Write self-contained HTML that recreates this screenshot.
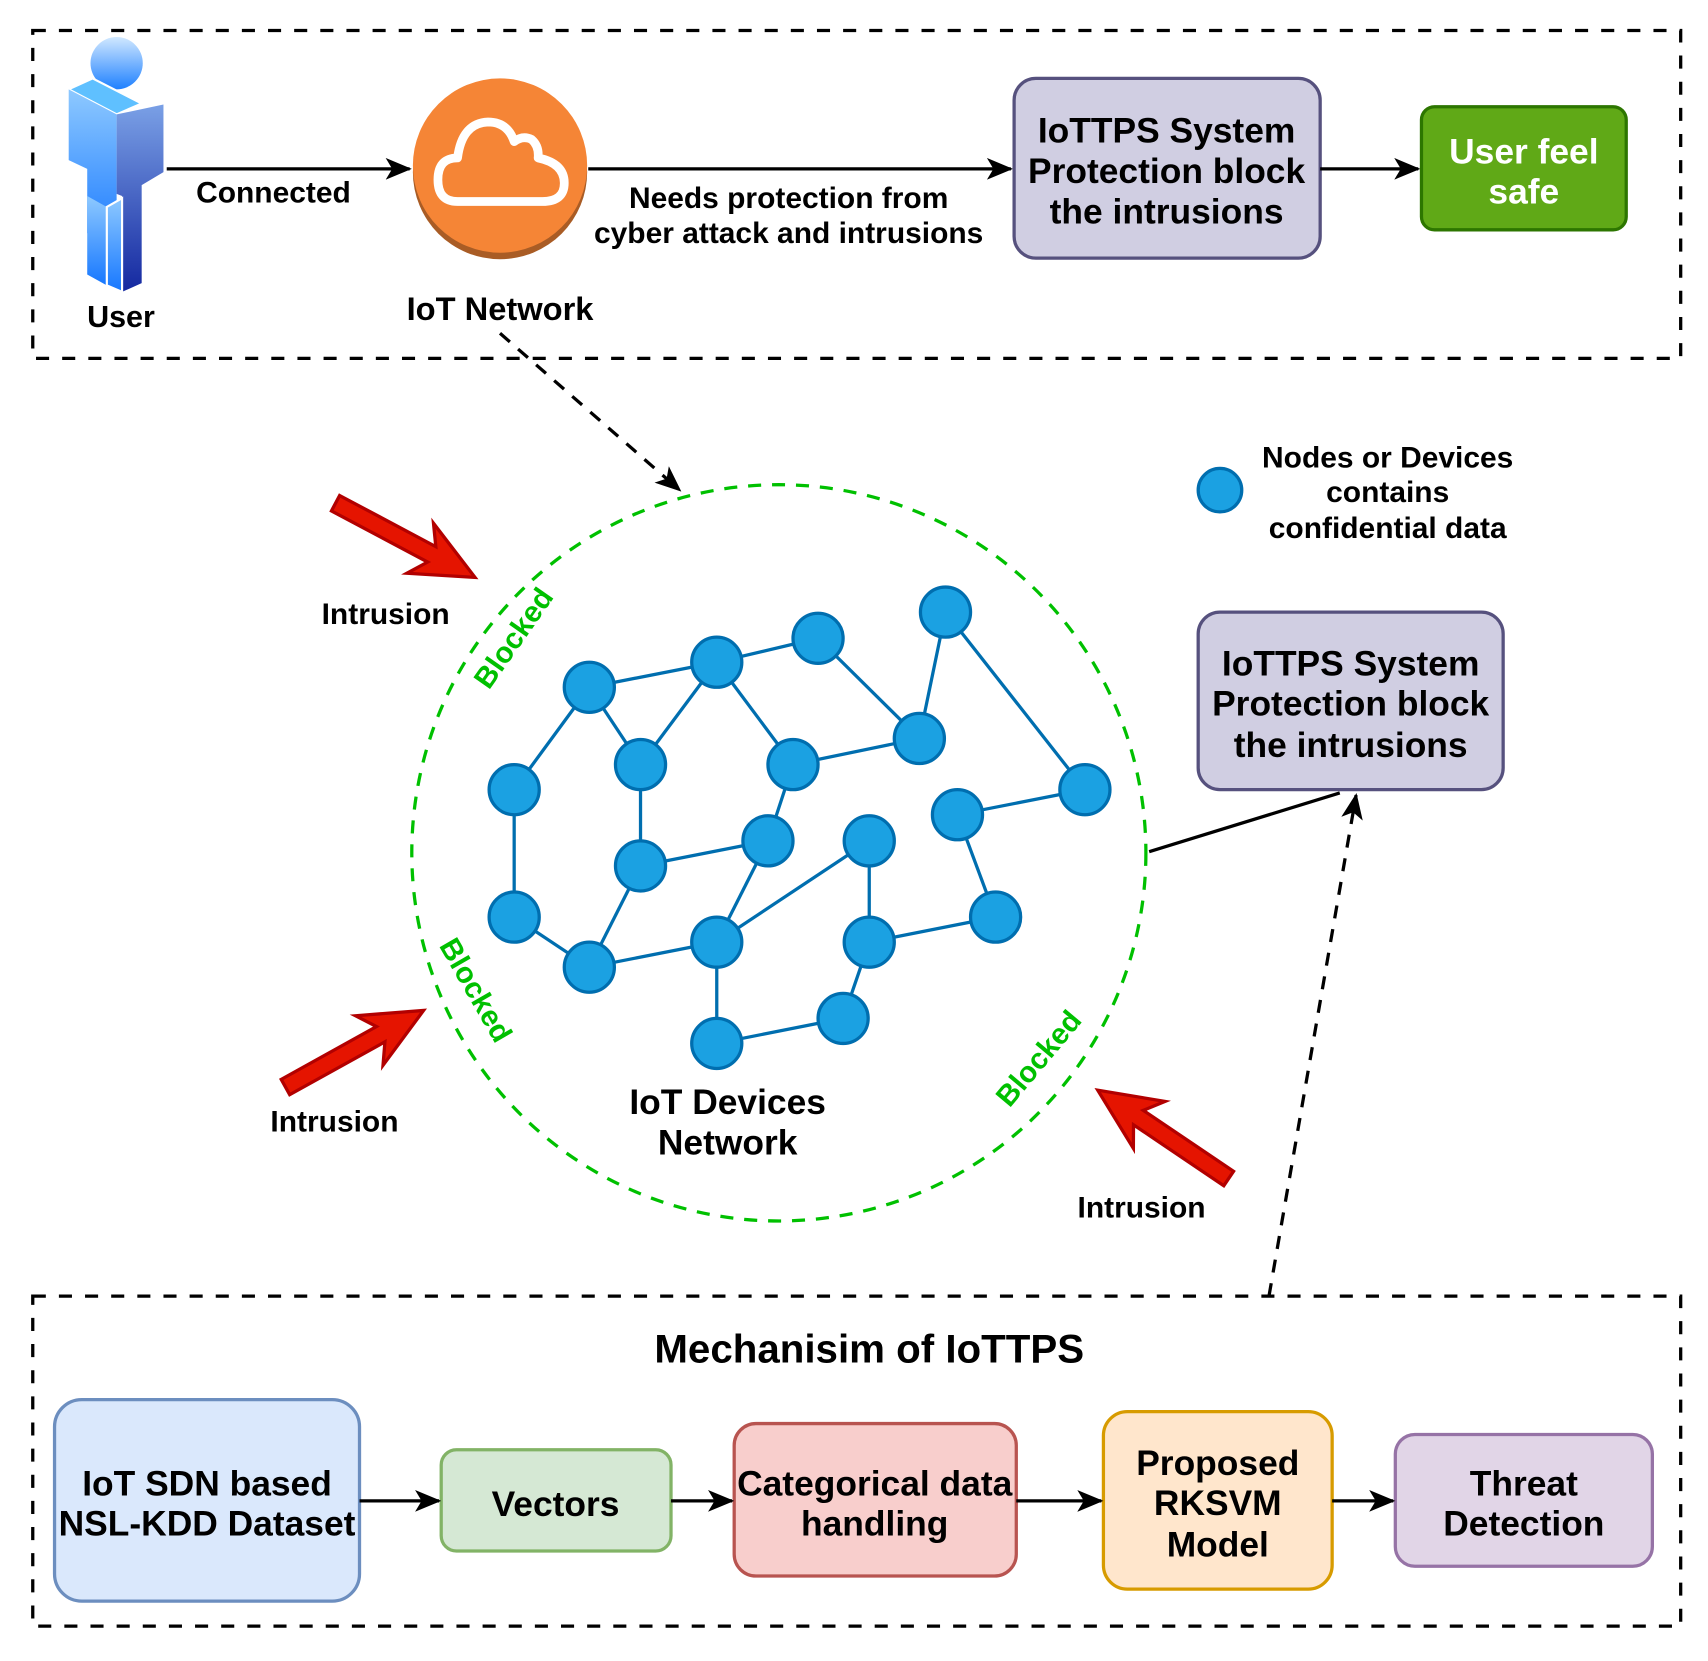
<!DOCTYPE html>
<html><head><meta charset="utf-8"><style>html,body{margin:0;padding:0;background:#fff}svg{display:block}text{font-family:"Liberation Sans",Arial,sans-serif;font-weight:bold}</style></head>
<body>
<svg width="1708" height="1661" viewBox="0 0 1568 1525" xmlns="http://www.w3.org/2000/svg">
<defs>
<marker id="ar2" viewBox="0 0 24 20" refX="22" refY="10" markerWidth="24" markerHeight="20" markerUnits="userSpaceOnUse" orient="auto">
<path d="M0,0 L24,10 L0,20 L6,10 Z" fill="#000"/>
</marker>
<linearGradient id="ug" x1="0" y1="0" x2="0" y2="1"><stop offset="0" stop-color="#8ec9ff"/><stop offset="1" stop-color="#1677ff"/></linearGradient>
<linearGradient id="ug2" x1="0" y1="0" x2="0" y2="1"><stop offset="0" stop-color="#7aa0e6"/><stop offset="1" stop-color="#1428a0"/></linearGradient>
<linearGradient id="uh" x1="0" y1="0" x2="0" y2="1"><stop offset="0" stop-color="#d0e8ff"/><stop offset="1" stop-color="#1f80ff"/></linearGradient>
<g id="red"><polygon points="0,-8 100,-8 88,-26 145,0 88,26 100,8 0,8" fill="#e51400" stroke="#b20000" stroke-width="3" stroke-linejoin="miter"/></g>
</defs>

<rect x="30" y="28" width="1513" height="301" fill="none" stroke="#000" stroke-width="3" stroke-dasharray="12,12"/>
<ellipse cx="107" cy="58" rx="24" ry="24" fill="url(#uh)"/>
<polygon points="63,82 107,105 130,95 85,72" fill="#5fc0ff" stroke="#fff" stroke-width="2"/>
<polygon points="63,82 107,105 107,230 80,214 80,155 63,147" fill="url(#ug)"/>
<polygon points="107,105 150,96 150,158 130,170 130,260 112,268 112,180 107,178" fill="url(#ug2)"/>
<polygon points="80,180 98,190 98,262 80,252" fill="url(#ug)"/>
<polygon points="98,190 112,182 112,268 98,262" fill="url(#ug)" stroke="#fff" stroke-width="2"/>
<text x="111" y="300" font-size="28" text-anchor="middle">User</text>
<line x1="153" y1="155" x2="376" y2="155" stroke="#000" stroke-width="3" marker-end="url(#ar2)"/>
<text x="251" y="186" font-size="27.5" text-anchor="middle">Connected</text>
<ellipse cx="459" cy="158" rx="80" ry="80" fill="#a95c25"/>
<ellipse cx="459" cy="152" rx="80" ry="80" fill="#f58536"/>
<path d="M420,185 Q402,185 402,165 Q402,145 420,145 Q424,113 448,112 Q466,112 472,130 Q480,124 488,128 Q495,134 494,145 Q518,150 518,168 Q518,185 498,185 Z" fill="none" stroke="#fff" stroke-width="8" stroke-linejoin="round"/>
<text x="459" y="294" font-size="30" text-anchor="middle">IoT Network</text>
<line x1="540" y1="155" x2="928" y2="155" stroke="#000" stroke-width="3" marker-end="url(#ar2)"/>
<text x="724" y="191" font-size="27.5" text-anchor="middle">Needs protection from</text>
<text x="724" y="223" font-size="27.5" text-anchor="middle">cyber attack and intrusions</text>
<rect x="931" y="72" width="281" height="165" rx="20" fill="#d0cee2" stroke="#56517e" stroke-width="3"/>
<text x="1071" y="131" font-size="32.5" text-anchor="middle">IoTTPS System</text>
<text x="1071" y="168" font-size="32.5" text-anchor="middle">Protection block</text>
<text x="1071" y="205" font-size="32.5" text-anchor="middle">the intrusions</text>
<line x1="1212" y1="155" x2="1302" y2="155" stroke="#000" stroke-width="3" marker-end="url(#ar2)"/>
<rect x="1305" y="98" width="188" height="113" rx="12" fill="#60a917" stroke="#2d7600" stroke-width="3"/>
<text x="1399" y="150" font-size="32.5" text-anchor="middle" fill="#fff">User feel</text>
<text x="1399" y="187" font-size="32.5" text-anchor="middle" fill="#fff">safe</text>

<line x1="459" y1="306" x2="624" y2="450" stroke="#000" stroke-width="3" stroke-dasharray="12,10" marker-end="url(#ar2)"/>
<ellipse cx="715" cy="783" rx="337" ry="338" fill="none" stroke="#00c000" stroke-width="3" stroke-dasharray="12,10"/>

<circle cx="1120" cy="450" r="20" fill="#1ba1e2" stroke="#006eaf" stroke-width="3"/>
<text x="1274" y="429" font-size="27.5" text-anchor="middle">Nodes or Devices</text>
<text x="1274" y="461" font-size="27.5" text-anchor="middle">contains</text>
<text x="1274" y="494" font-size="27.5" text-anchor="middle">confidential data</text>

<rect x="1100" y="562" width="280" height="163" rx="20" fill="#d0cee2" stroke="#56517e" stroke-width="3"/>
<text x="1240" y="620" font-size="32.5" text-anchor="middle">IoTTPS System</text>
<text x="1240" y="657" font-size="32.5" text-anchor="middle">Protection block</text>
<text x="1240" y="695" font-size="32.5" text-anchor="middle">the intrusions</text>
<line x1="1055" y1="782" x2="1230" y2="728" stroke="#000" stroke-width="3"/>
<polyline points="1165,1190 1245,730" fill="none" stroke="#000" stroke-width="3" stroke-dasharray="12,10" marker-end="url(#ar2)"/>

<use href="#red" transform="translate(308,462) rotate(28)"/>
<use href="#red" transform="translate(262,998) rotate(-29)"/>
<use href="#red" transform="translate(1128,1082) rotate(-146)"/>
<text x="354" y="573" font-size="27.5" text-anchor="middle">Intrusion</text>
<text x="307" y="1039" font-size="27.5" text-anchor="middle">Intrusion</text>
<text x="1048" y="1118" font-size="27.5" text-anchor="middle">Intrusion</text>

<text transform="translate(473,587) rotate(-55)" font-size="27" fill="#00c000" text-anchor="middle" dominant-baseline="middle">Blocked</text>
<text transform="translate(435,910) rotate(60)" font-size="27" fill="#00c000" text-anchor="middle" dominant-baseline="middle">Blocked</text>
<text transform="translate(955,973) rotate(-50)" font-size="27" fill="#00c000" text-anchor="middle" dominant-baseline="middle">Blocked</text>

<g stroke="#006eaf" stroke-width="3">
<line x1="541" y1="631" x2="658" y2="608"/>
<line x1="658" y1="608" x2="751" y2="586"/>
<line x1="541" y1="631" x2="472" y2="725"/>
<line x1="541" y1="631" x2="588" y2="702"/>
<line x1="658" y1="608" x2="588" y2="702"/>
<line x1="658" y1="608" x2="728" y2="702"/>
<line x1="751" y1="586" x2="844" y2="678"/>
<line x1="868" y1="562" x2="844" y2="678"/>
<line x1="868" y1="562" x2="996" y2="725"/>
<line x1="728" y1="702" x2="844" y2="678"/>
<line x1="728" y1="702" x2="705" y2="772"/>
<line x1="588" y1="702" x2="588" y2="795"/>
<line x1="588" y1="795" x2="705" y2="772"/>
<line x1="472" y1="725" x2="472" y2="842"/>
<line x1="472" y1="842" x2="541" y2="888"/>
<line x1="541" y1="888" x2="588" y2="795"/>
<line x1="541" y1="888" x2="658" y2="865"/>
<line x1="705" y1="772" x2="658" y2="865"/>
<line x1="658" y1="865" x2="798" y2="772"/>
<line x1="798" y1="772" x2="798" y2="865"/>
<line x1="798" y1="865" x2="914" y2="842"/>
<line x1="798" y1="865" x2="774" y2="935"/>
<line x1="658" y1="865" x2="658" y2="958"/>
<line x1="658" y1="958" x2="774" y2="935"/>
<line x1="879" y1="748" x2="996" y2="725"/>
<line x1="879" y1="748" x2="914" y2="842"/>
</g>
<g fill="#1ba1e2" stroke="#006eaf" stroke-width="3">
<circle cx="541" cy="631" r="23"/><circle cx="658" cy="608" r="23"/><circle cx="751" cy="586" r="23"/><circle cx="868" cy="562" r="23"/>
<circle cx="588" cy="702" r="23"/><circle cx="728" cy="702" r="23"/><circle cx="844" cy="678" r="23"/><circle cx="472" cy="725" r="23"/>
<circle cx="996" cy="725" r="23"/><circle cx="879" cy="748" r="23"/><circle cx="588" cy="795" r="23"/><circle cx="705" cy="772" r="23"/>
<circle cx="798" cy="772" r="23"/><circle cx="472" cy="842" r="23"/><circle cx="541" cy="888" r="23"/><circle cx="658" cy="865" r="23"/>
<circle cx="798" cy="865" r="23"/><circle cx="914" cy="842" r="23"/><circle cx="658" cy="958" r="23"/><circle cx="774" cy="935" r="23"/>
</g>
<text x="668" y="1023" font-size="32.5" text-anchor="middle">IoT Devices</text>
<text x="668" y="1060" font-size="32.5" text-anchor="middle">Network</text>

<rect x="30" y="1190" width="1513" height="303" fill="none" stroke="#000" stroke-width="3" stroke-dasharray="12,12"/>
<text x="798" y="1251" font-size="37" text-anchor="middle">Mechanisim of IoTTPS</text>
<rect x="50" y="1285" width="280" height="185" rx="25" fill="#dae8fc" stroke="#6c8ebf" stroke-width="3"/>
<text x="190" y="1373" font-size="32.5" text-anchor="middle">IoT SDN based</text>
<text x="190" y="1410" font-size="32.5" text-anchor="middle">NSL-KDD Dataset</text>
<rect x="405" y="1331" width="211" height="93" rx="14" fill="#d5e8d4" stroke="#82b366" stroke-width="3"/>
<text x="510" y="1392" font-size="32.5" text-anchor="middle">Vectors</text>
<rect x="674" y="1307" width="259" height="140" rx="20" fill="#f8cecc" stroke="#b85450" stroke-width="3"/>
<text x="803" y="1373" font-size="32.5" text-anchor="middle">Categorical data</text>
<text x="803" y="1410" font-size="32.5" text-anchor="middle">handling</text>
<rect x="1013" y="1296" width="210" height="163" rx="22" fill="#ffe6cc" stroke="#d79b00" stroke-width="3"/>
<text x="1118" y="1354" font-size="32.5" text-anchor="middle">Proposed</text>
<text x="1118" y="1391" font-size="32.5" text-anchor="middle">RKSVM</text>
<text x="1118" y="1429" font-size="32.5" text-anchor="middle">Model</text>
<rect x="1281" y="1317" width="236" height="121" rx="18" fill="#e1d5e7" stroke="#9673a6" stroke-width="3"/>
<text x="1399" y="1373" font-size="32.5" text-anchor="middle">Threat</text>
<text x="1399" y="1410" font-size="32.5" text-anchor="middle">Detection</text>
<g stroke="#000" stroke-width="3">
<line x1="330" y1="1378" x2="403" y2="1378" marker-end="url(#ar2)"/>
<line x1="616" y1="1378" x2="672" y2="1378" marker-end="url(#ar2)"/>
<line x1="933" y1="1378" x2="1011" y2="1378" marker-end="url(#ar2)"/>
<line x1="1223" y1="1378" x2="1279" y2="1378" marker-end="url(#ar2)"/>
</g>
</svg>
</body></html>
